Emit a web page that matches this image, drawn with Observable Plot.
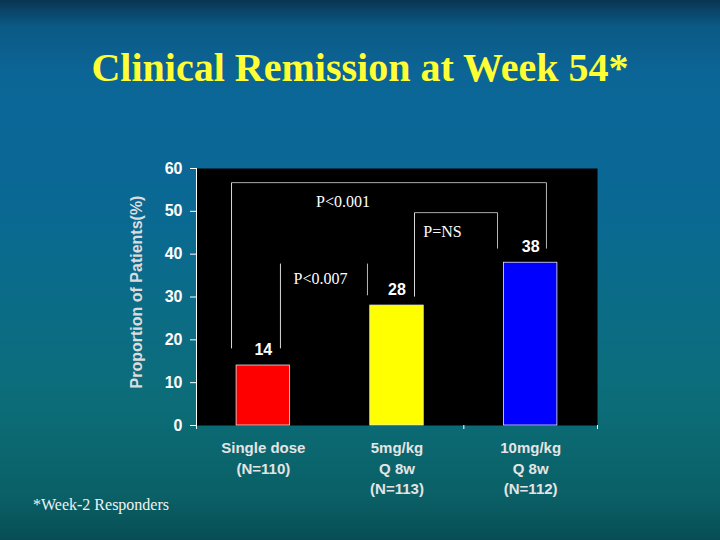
<!DOCTYPE html>
<html>
<head>
<meta charset="utf-8">
<script src="https://cdn.jsdelivr.net/npm/d3@7"></script>
<script src="https://cdn.jsdelivr.net/npm/@observablehq/plot@0.6"></script>
<style>
  html, body { margin: 0; padding: 0; }
  body {
    width: 720px; height: 540px; overflow: hidden; position: relative;
    background: linear-gradient(to bottom, #0a3553 0%, #0b5a86 5%, #0b6697 14%, #0a6895 35%, #0b6c88 55%, #0c6d78 75%, #0a6066 92%, #084d55 100%);
  }
  #title {
    position: absolute; left: 0; top: 48px; width: 720px; text-align: center;
    font-family: "Liberation Serif", "Times New Roman", serif; font-weight: bold;
    font-size: 40px; line-height: 40px; color: #ffff33;
  }
  #chart { position: absolute; left: 0; top: 0; }
  #note {
    position: absolute; left: 33px; top: 496px;
    font-family: "Liberation Serif", "Times New Roman", serif; font-size: 16px;
    line-height: 18px; color: #eef4f4;
  }
</style>
</head>
<body>
<div id="title">Clinical Remission at Week 54*</div>
<div id="chart"></div>
<div id="note">*Week-2 Responders</div>
<script>
// ---- data ----
const categories = ["Single dose\n(N=110)", "5mg/kg\nQ 8w\n(N=113)", "10mg/kg\nQ 8w\n(N=112)"];
const values = [14, 28, 38];
const barColors = ["#ff0000", "#ffff00", "#0000ff"];
const yTicks = [0, 10, 20, 30, 40, 50, 60];
const yLabel = "Proportion of Patients(%)";
// significance brackets (x in category-index units, y in %)
const bracketLabels = ["P<0.001", "P<0.007", "P=NS"];
const bracketLeftX = [-0.238, 0.128, 1.131];
const bracketRightX = [2.118, 0.779, 1.752];
const bracketTop = [56.7, 37.8, 49.7];
const bracketLeftEnd = [18.0, 18.0, 30.1];
const bracketRightEnd = [41.3, 30.4, 41.3];
const bracketHasTop = [true, false, true];
const bracketLabelX = [0.596, 0.428, 1.340];
const bracketLabelY = [52.1, 34.3, 45.3];
const xBoundaryTicks = [-0.5, 1.5, 2.5];

const bars = categories.map((c, i) => ({i, value: values[i], color: barColors[i]}));
const half = 0.2;
const segs = [];
bracketLabels.forEach((l, k) => {
  if (bracketHasTop[k]) segs.push({x1: bracketLeftX[k], y1: bracketTop[k], x2: bracketRightX[k], y2: bracketTop[k], c: "#a8a8a8"});
  segs.push({x1: bracketLeftX[k], y1: bracketTop[k], x2: bracketLeftX[k], y2: bracketLeftEnd[k], c: "#d8d8d8"});
  segs.push({x1: bracketRightX[k], y1: bracketTop[k], x2: bracketRightX[k], y2: bracketRightEnd[k], c: "#b8b8b8"});
});
const blabels = bracketLabels.map((t, k) => ({t, x: bracketLabelX[k], y: bracketLabelY[k]}));

const chart = Plot.plot({
  width: 720, height: 540,
  marginLeft: 196, marginRight: 123, marginTop: 168, marginBottom: 115,
  style: {background: "transparent", fontFamily: "'Liberation Sans', Arial, sans-serif", color: "white"},
  x: {type: "linear", domain: [-0.5, 2.5]},
  y: {domain: [0, 60]},
  color: {type: "identity"},
  marks: [
    Plot.frame({fill: "black"}),
    Plot.rectY(bars, {x1: d => d.i - half, x2: d => d.i + half, y1: 0, y2: "value", fill: "color", stroke: "#e8e8e8", strokeWidth: 0.8}),
    Plot.text(bars, {x: "i", y: "value", text: d => String(d.value), dy: -16, fill: "white", fontSize: 16, fontWeight: "bold"}),
    Plot.link(segs, {x1: "x1", y1: "y1", x2: "x2", y2: "y2", stroke: "c", strokeWidth: 1}),
    Plot.text(blabels, {x: "x", y: "y", text: "t", fill: "white", fontSize: 16, fontFamily: "'Liberation Serif', 'Times New Roman', serif"}),
    Plot.ruleX([-0.5], {stroke: "white", strokeWidth: 1}),
    Plot.axisY({ticks: yTicks, tickSize: 6, tickPadding: 8, fontSize: 16, fontWeight: "bold", stroke: "white", fill: "white", label: null}),
    Plot.axisX({ticks: xBoundaryTicks, tickSize: 4, tickFormat: () => "", stroke: "white", label: null}),
    Plot.axisX({ticks: [0, 1, 2], tickFormat: i => categories[i], tickSize: 0, tickPadding: 13, fontSize: 15, fontWeight: "bold", fill: "#e4e4e4", lineHeight: 1.37, label: null}),
    Plot.text([yLabel], {frameAnchor: "left", textAnchor: "middle", rotate: -90, dx: -60, dy: -5, fill: "#dcdcdc", fontSize: 16, fontWeight: "bold"})
  ]
});
document.getElementById("chart").appendChild(chart);
</script>
</body>
</html>
